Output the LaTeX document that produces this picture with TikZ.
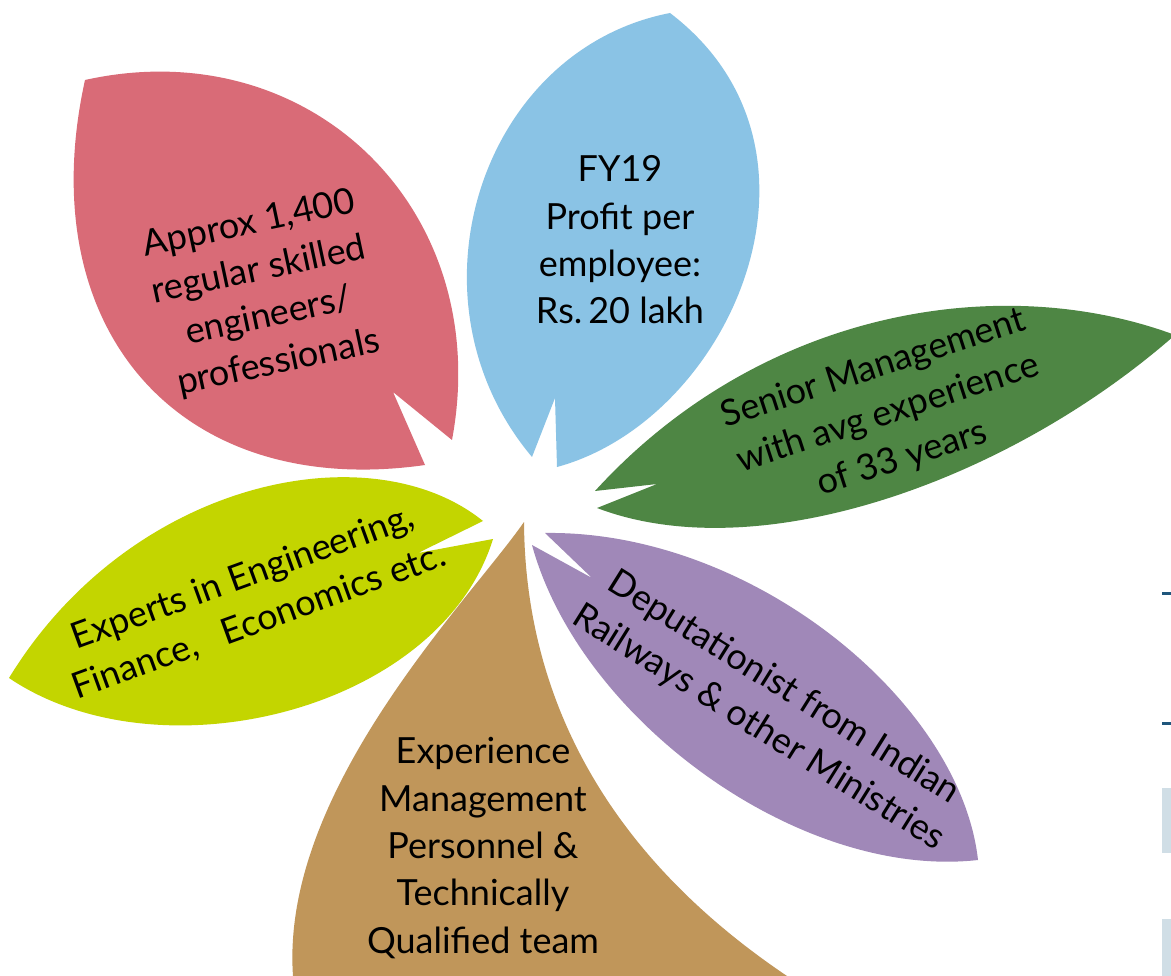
\documentclass[tikz,border=0pt]{standalone}
\usepackage{fontspec}
\setmainfont{Lato}
\usepackage{tikz}
\usetikzlibrary{positioning}

\definecolor{PetalRed}{RGB}{217,107,119}
\definecolor{PetalBlue}{RGB}{138,195,229}
\definecolor{PetalGreen}{RGB}{78,134,68}
\definecolor{PetalLime}{RGB}{195,213,0}
\definecolor{PetalBrown}{RGB}{192,150,90}
\definecolor{PetalPurple}{RGB}{160,136,184}
\definecolor{EdgeNavy}{RGB}{31,86,124}
\definecolor{EdgeMist}{RGB}{208,222,230}

\begin{document}
\begin{tikzpicture}[x=1pt, y=-1pt,
    petal text/.style={align=center, inner sep=0pt, font=\fontsize{36}{47.3}\selectfont}]
            \useasboundingbox (0,0) rectangle (1171,976);
            \fill[white] (0,0) rectangle (1171,976);

            % === Red petal (top left) ===
            \fill[PetalRed]
            (85,80)
            .. controls (310,30) and (495,210) .. (452,440)
            -- (393,392) -- (425,465)
            .. controls (180,500) and (30,330) .. (85,80);

            % === Blue petal (top) ===
            \fill[PetalBlue]
            (670,13)
            .. controls (480,50) and (400,300) .. (532,457)
            -- (555,398) -- (557,467)
            .. controls (730,420) and (850,150) .. (670,13);

            % === Green petal (right) ===
            \fill[PetalGreen]
            (1175,335)
            .. controls (1000,270) and (760,310) .. (595,491)
            -- (657,484) -- (597,508)
            .. controls (760,570) and (1010,480) .. (1175,335);

            % === Purple petal (lower right) ===
            \fill[PetalPurple]
            (532,545)
            .. controls (580,720) and (800,880) .. (978,860)
            .. controls (960,700) and (750,530) .. (545,533)
            -- (592,578) -- cycle;

            % === Brown petal (bottom) ===
            \fill[PetalBrown]
            (524,522)
            .. controls (470,600) and (280,790) .. (293,976)
            -- (787,976)
            .. controls (600,850) and (525,690) .. (524,522);

            % === Lime petal (left) ===
            \fill[PetalLime]
            (9,678)
            .. controls (130,480) and (370,430) .. (483,521)
            -- (418,553) -- (493,539)
            .. controls (440,710) and (160,780) .. (9,678);

            % bits of the next slide at the right edge
            \fill[EdgeNavy] (1162,592) rectangle (1171,595);
            \fill[EdgeNavy] (1162,722) rectangle (1171,725);
            \fill[EdgeMist] (1162,788) rectangle (1171,853);
            \fill[EdgeMist] (1162,919) rectangle (1171,976);

            \node[petal text, rotate=12] (engineers) at (264,294)
                {Approx 1,400\\regular skilled\\engineers/\\professionals};
            \node[petal text] (profit) at (620,240)
                {FY19\\Profit per\\employee:\\Rs.\,20 lakh};
            \node[petal text, rotate=18] (senior) at (888,414)
                {Senior Management\\with avg experience\\of 33 years};
            \node[petal text, rotate=-32] (deputation) at (771,708)
                {Deputationist from Indian\\Railways \& other Ministries};
            \node[petal text] (team) at (483,848)
                {Experience\\Management\\Personnel \&\\Technically\\Qualified team};
            \node[petal text, rotate=20] (experts) at (251,600)
                {Experts in Engineering,\\Finance,\ \ \ Economics etc.};
\end{tikzpicture}
\end{document}
